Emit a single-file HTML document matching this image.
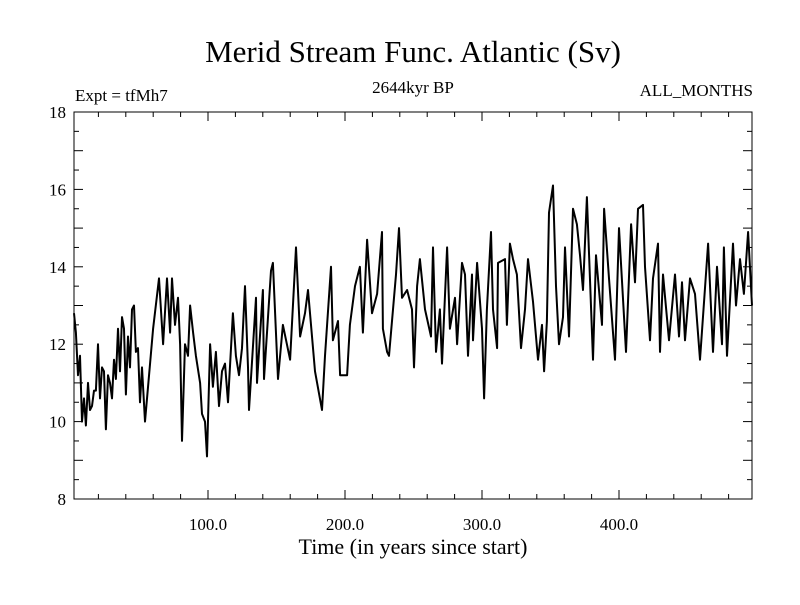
<!DOCTYPE html>
<html><head><meta charset="utf-8"><style>
body{margin:0;background:#fff}
svg text{font-family:"Liberation Serif",serif;fill:#000}
</style></head><body>
<svg id="c" width="800" height="600">
<rect width="800" height="600" fill="#fff"/>
<text x="413" y="62" font-size="31" text-anchor="middle">Merid Stream Func. Atlantic (Sv)</text>
<text x="75" y="101" font-size="17">Expt = tfMh7</text>
<text x="413" y="93" font-size="17" text-anchor="middle">2644kyr BP</text>
<text x="753" y="96" font-size="17" text-anchor="end">ALL_MONTHS</text>
<text x="413" y="554" font-size="22" text-anchor="middle">Time (in years since start)</text>
<g id="axes"></g>
<path id="line" fill="none" stroke="#000" stroke-width="2" stroke-linejoin="round"/>
<rect x="74" y="112" width="678" height="387" fill="none" stroke="#000" stroke-width="1"/>
</svg>
<script>
const years=[2.2,3.6,5.1,6.6,8.0,9.5,10.9,12.4,13.9,15.3,16.8,18.2,19.7,21.2,22.6,24.1,25.5,27.0,28.5,29.9,31.4,32.8,34.3,35.8,37.2,38.7,40.1,41.6,43.1,44.5,46.0,47.4,48.9,50.4,51.8,54.0,59.9,64.2,67.2,70.1,72.3,73.7,75.9,78.1,79.6,81.0,83.2,85.4,86.9,89.1,91.2,94.2,95.6,97.8,99.3,101.5,103.6,105.8,108.0,110.2,112.4,114.6,116.8,118.2,120.4,122.6,124.8,127.0,129.2,129.9,135.0,135.8,140.1,140.9,146.0,147.4,151.1,154.7,159.9,164.2,167.2,170.8,173.0,178.1,183.2,185.4,189.8,191.2,194.9,196.4,201.5,203.6,207.3,210.9,213.1,216.1,219.7,223.4,227.0,227.7,230.7,232.1,235.0,237.2,239.4,241.6,245.3,248.9,250.4,252.6,254.7,258.4,262.8,264.2,266.4,269.3,270.8,274.5,276.6,280.3,281.8,285.4,287.6,289.8,292.7,293.4,296.4,300.0,301.5,303.6,306.6,308.0,311.0,311.7,316.8,318.2,320.4,322.6,325.5,328.5,331.4,333.6,337.2,340.9,343.8,345.3,347.4,348.9,351.8,354.0,356.2,359.1,360.6,363.5,366.4,369.3,371.5,373.7,376.6,381.0,383.2,387.6,389.1,392.7,397.1,400.0,405.1,408.8,411.7,413.9,417.5,419.0,422.6,424.8,428.5,429.9,432.1,436.5,440.9,443.8,446.0,448.2,451.8,455.5,459.1,465.0,468.6,471.5,475.2,476.6,478.8,483.2,485.4,488.3,491.2,494.2,497.1];
const values=[12.8,12.3,11.2,11.7,10.0,10.6,9.9,11.0,10.3,10.4,10.8,10.8,12.0,10.6,11.4,11.3,9.8,11.2,11.0,10.6,11.6,11.1,12.4,11.3,12.7,12.4,10.7,12.2,11.4,12.9,13.0,11.8,11.9,10.5,11.4,10.0,12.4,13.7,12.0,13.7,12.3,13.7,12.5,13.2,12.0,9.5,12.0,11.7,13.0,12.3,11.7,11.0,10.2,10.0,9.1,12.0,10.9,11.8,10.4,11.3,11.5,10.5,11.9,12.8,11.7,11.2,11.9,13.5,11.4,10.3,13.2,11.0,13.4,11.1,13.9,14.1,11.1,12.5,11.6,14.5,12.2,12.8,13.4,11.3,10.3,11.7,14.0,12.1,12.6,11.2,11.2,12.5,13.5,14.0,12.3,14.7,12.8,13.3,14.9,12.4,11.8,11.7,12.9,13.8,15.0,13.2,13.4,12.9,11.4,13.5,14.2,12.9,12.2,14.5,11.8,12.9,11.5,14.5,12.4,13.2,12.0,14.1,13.8,11.7,13.8,12.1,14.1,12.4,10.6,12.9,14.9,12.9,11.9,14.1,14.2,12.5,14.6,14.2,13.8,11.9,12.9,14.2,13.1,11.6,12.5,11.3,12.6,15.4,16.1,13.5,12.0,12.7,14.5,12.2,15.5,15.1,14.3,13.4,15.8,11.6,14.3,12.5,15.5,13.7,11.6,15.0,11.8,15.1,13.6,15.5,15.6,14.0,12.1,13.7,14.6,11.8,13.8,12.1,13.8,12.2,13.6,12.1,13.7,13.3,11.6,14.6,11.8,14.0,12.0,14.5,11.7,14.6,13.0,14.2,13.3,14.9,13.0];
const yTickLabels=[8,10,12,14,16,18];
const xTickLabels=[100,200,300,400];
const X0=74,X1=752,Y0=499,Y1=112;
function xs(v){return 71+1.37*v;}
function ys(v){return Y0-(v-8)*(Y0-Y1)/10;}
const NS='http://www.w3.org/2000/svg';
const ax=document.getElementById('axes');
function ln(x1,y1,x2,y2,name){const l=document.createElementNS(NS,'line');l.setAttribute('x1',x1);l.setAttribute('y1',y1);l.setAttribute('x2',x2);l.setAttribute('y2',y2);l.setAttribute('stroke','#000');


ax.appendChild(l);}
function tx(x,y,s,anchor,name){const t=document.createElementNS(NS,'text');t.setAttribute('x',x);t.setAttribute('y',y);t.setAttribute('font-size','17');t.setAttribute('text-anchor',anchor);t.textContent=s;


ax.appendChild(t);}
for(let v=8;v<=18;v+=0.5){const y=ys(v);const L=(v%1===0)?9:5;ln(X0,y,X0+L,y,'y-tick');ln(X1,y,X1-L,y,'y-tick-right');}
yTickLabels.forEach(v=>tx(66,ys(v)+6,String(v),'end','y-tick-label'));
for(let v=20;v<=480;v+=20){const x=xs(v);const L=(v%100===0)?9:5;ln(x,Y0,x,Y0-L,'x-tick');ln(x,Y1,x,Y1+L,'x-tick-top');}
xTickLabels.forEach(v=>tx(xs(v),530,v.toFixed(1),'middle','x-tick-label'));
let d='';years.forEach((yr,i)=>{d+=(i?'L':'M')+xs(yr).toFixed(1)+','+ys(values[i]).toFixed(1);});
document.getElementById('line').setAttribute('d',d);
</script>
</body></html>
